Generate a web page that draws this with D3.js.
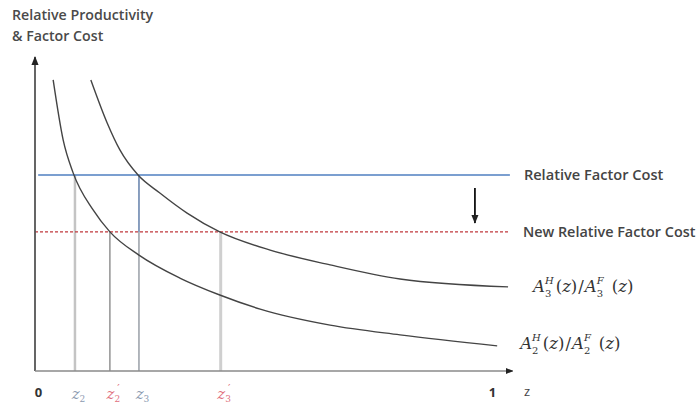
<!DOCTYPE html>
<html>
<head>
<meta charset="utf-8">
<script src="https://cdn.jsdelivr.net/npm/d3@7"></script>
<style>
  body { margin: 0; background: #fff; }
  svg { display: block; }
</style>
</head>
<body>
<div id="chart"></div>
<script>
// Data (z in [0,1], relative productivity in arbitrary units)
const curveA2 = [
  [0.040, 9.27], [0.062, 7.36], [0.084, 6.31], [0.128, 5.13], [0.165, 4.43],
  [0.229, 3.69], [0.319, 2.96], [0.407, 2.42], [0.496, 1.97], [0.650, 1.46],
  [0.804, 1.15], [1.018, 0.80],
];
const curveA3 = [
  [0.123, 9.27], [0.159, 7.90], [0.187, 7.04], [0.227, 6.24], [0.275, 5.67],
  [0.335, 5.03], [0.407, 4.43], [0.518, 3.85], [0.650, 3.38], [0.804, 2.93],
  [1.042, 2.68],
];
const factorCost = 6.24;     // Relative Factor Cost
const newFactorCost = 4.43;  // New Relative Factor Cost
const cutoffs = [
  { key: "z2", z: 0.088, level: factorCost },
  { key: "z2p", z: 0.165, level: newFactorCost },
  { key: "z3", z: 0.229, level: factorCost },
  { key: "z3p", z: 0.409, level: newFactorCost },
];
const tickValues = [0, 0.088, 0.165, 0.229, 0.409, 1];
const tickLabels = ["0", "z|2|", "z|2|′", "z|3|", "z|3|′", "1"];
const lineEnd = 1.046;

const width = 699, height = 407;
const SANS = "'Open Sans', Lato, sans-serif";
const MATH = "'DejaVu Serif', 'Liberation Serif', serif";

const x = d3.scaleLinear().domain([0, 1]).range([35, 489]);
const y = d3.scaleLinear().domain([0, 10]).range([371, 57]);

const svg = d3.select("#chart").append("svg")
  .attr("width", width).attr("height", height);

const defs = svg.append("defs");
defs.append("marker")
  .attr("id", "arrow")
  .attr("viewBox", "0 0 10 10")
  .attr("refX", 9).attr("refY", 5)
  .attr("markerWidth", 5).attr("markerHeight", 5)
  .attr("orient", "auto-start-reverse")
  .append("path").attr("d", "M0,1 L10,5 L0,9 Z").attr("fill", "#222");

// Title
const title = svg.append("text")
  .attr("x", 12).attr("y", 20)
  .attr("font-family", SANS).attr("font-weight", 600)
  .attr("font-size", 14.2).attr("fill", "#4a4a4a");
title.append("tspan").attr("x", 12).text("Relative Productivity");
title.append("tspan").attr("x", 12).attr("dy", 21).text("& Factor Cost");

// Vertical cut-off lines
const vStyle = {
  z2: { stroke: "#c4c4c4", w: 2.5 },
  z2p: { stroke: "#777", w: 1.2 },
  z3: { stroke: "#7f8790", w: 1.2 },
  z3p: { stroke: "#cfcfcf", w: 3 },
};
svg.append("g").selectAll("line")
  .data(cutoffs)
  .join("line")
  .attr("x1", (d) => x(d.z)).attr("x2", (d) => x(d.z))
  .attr("y1", (d) => y(d.level)).attr("y2", y(0))
  .attr("stroke", (d) => vStyle[d.key].stroke)
  .attr("stroke-width", (d) => vStyle[d.key].w);
// blue tint on the upper part of z3
svg.append("line")
  .attr("x1", x(0.229)).attr("x2", x(0.229))
  .attr("y1", y(factorCost)).attr("y2", y(newFactorCost))
  .attr("stroke", "#6f8fc0").attr("stroke-width", 1.2);

// Factor cost lines
svg.append("line")
  .attr("x1", x(0.007)).attr("x2", x(lineEnd))
  .attr("y1", y(factorCost)).attr("y2", y(factorCost))
  .attr("stroke", "#4f7fc0").attr("stroke-width", 1.5);
svg.append("line")
  .attr("x1", x(0)).attr("x2", x(lineEnd))
  .attr("y1", y(newFactorCost)).attr("y2", y(newFactorCost))
  .attr("stroke", "#c0383c").attr("stroke-width", 1.3)
  .attr("stroke-dasharray", "3,2");

// Productivity curves
const line = d3.line()
  .x((d) => x(d[0]))
  .y((d) => y(d[1]))
  .curve(d3.curveMonotoneX);
svg.append("g").selectAll("path")
  .data([curveA2, curveA3])
  .join("path")
  .attr("d", line)
  .attr("fill", "none")
  .attr("stroke", "#444")
  .attr("stroke-width", 1.4);

// Axes
svg.append("line")
  .attr("x1", x(0)).attr("x2", x(0))
  .attr("y1", y(0)).attr("y2", y(10))
  .attr("stroke", "#555").attr("stroke-width", 1.8)
  .attr("marker-end", "url(#arrow)");
svg.append("line")
  .attr("x1", x(0)).attr("x2", x(1.052))
  .attr("y1", y(0)).attr("y2", y(0))
  .attr("stroke", "#8a8a8a").attr("stroke-width", 1.5)
  .attr("marker-end", "url(#arrow)");

const gx = svg.append("g")
  .attr("transform", `translate(3,${y(0)})`)
  .call(d3.axisBottom(x).tickValues(tickValues).tickSize(0).tickPadding(17)
    .tickFormat((d, i) => tickLabels[i]));
gx.select(".domain").remove();
gx.selectAll("text").each(function (d, i) {
  const lab = tickLabels[i];
  const t = d3.select(this).text(null);
  if (!lab.includes("|")) {
    t.attr("font-family", SANS).attr("font-weight", 700)
      .attr("font-size", 13).attr("fill", "#333").text(lab);
    return;
  }
  const [base, sub, prime] = lab.split("|");
  const col = prime ? "#e0707e" : "#8c9ab0";
  t.attr("font-family", MATH).attr("font-size", 15).attr("fill", col);
  t.append("tspan").attr("font-style", "italic").text(base);
  t.append("tspan").attr("font-size", 9).attr("dy", 3).text(sub);
  if (prime) t.append("tspan").attr("font-size", 11).attr("dy", -10).attr("dx", -3).text(prime);
});
svg.append("text")
  .attr("x", x(1) + 38).attr("y", y(0) + 25)
  .attr("font-family", SANS).attr("font-size", 13).attr("fill", "#444")
  .attr("text-anchor", "middle").text("z");

// Shift arrow
svg.append("line")
  .attr("x1", x(0.969)).attr("x2", x(0.969))
  .attr("y1", y(factorCost) + 13).attr("y2", y(newFactorCost) - 9)
  .attr("stroke", "#111").attr("stroke-width", 1.8)
  .attr("marker-end", "url(#arrow)");

// Right labels
svg.append("text")
  .attr("x", x(lineEnd) + 14).attr("y", y(factorCost) + 5)
  .attr("font-family", SANS).attr("font-weight", 600)
  .attr("font-size", 14.6).attr("fill", "#444").text("Relative Factor Cost");
svg.append("text")
  .attr("x", x(lineEnd) + 13).attr("y", y(newFactorCost) + 5)
  .attr("font-family", SANS).attr("font-weight", 600)
  .attr("font-size", 14.4).attr("fill", "#444").text("New Relative Factor Cost");

// Curve labels A^H_i(z)/A^F_i(z): one text, tspans placed by measured widths
function drawRatio(g, x0, y0, idx) {
  const big = 16.5, small = 10;
  const measure = (txt, size, italic) => {
    const n = g.append("text")
      .attr("font-family", MATH).attr("font-size", size)
      .attr("font-style", italic ? "italic" : "normal").text(txt);
    const w = n.node().getComputedTextLength();
    n.remove();
    return w;
  };
  const parts = [];
  let cx = x0;
  const add = (txt, size, dy, italic, advance, extra = 0) => {
    parts.push({ txt, size, x: cx, y: y0 + dy, italic });
    if (advance) cx += measure(txt, size, italic) + extra;
  };
  add("A", big, 0, true, true);
  const wH = measure("H", small, true);
  add("H", small, -8, true, false);
  add(idx, small, 5, false, false);
  cx += wH + 2;
  add("(", big, 0, false, true);
  add("z", big, 0, true, true);
  add(")", big, 0, false, true, 1);
  add("/", big, 0, false, true, 1);
  add("A", big, 0, true, true);
  const wF = measure("F", small, true);
  add("F", small, -8, true, false);
  add(idx, small, 5, false, false);
  cx += wF + 8;
  add("(", big, 0, false, true);
  add("z", big, 0, true, true);
  add(")", big, 0, false, true);

  g.append("text")
    .attr("font-family", MATH).attr("fill", "#333")
    .selectAll("tspan")
    .data(parts)
    .join("tspan")
    .attr("x", (d) => d.x).attr("y", (d) => d.y)
    .attr("font-size", (d) => d.size)
    .attr("font-style", (d) => (d.italic ? "italic" : "normal"))
    .text((d) => d.txt);
}
const gLab = svg.append("g");
const endA3 = curveA3[curveA3.length - 1];
const endA2 = curveA2[curveA2.length - 1];
drawRatio(gLab, x(endA3[0]) + 25, y(endA3[1]) + 5, "3");
drawRatio(gLab, x(endA2[0]) + 23, y(endA2[1]) + 3, "2");
</script>
</body>
</html>
